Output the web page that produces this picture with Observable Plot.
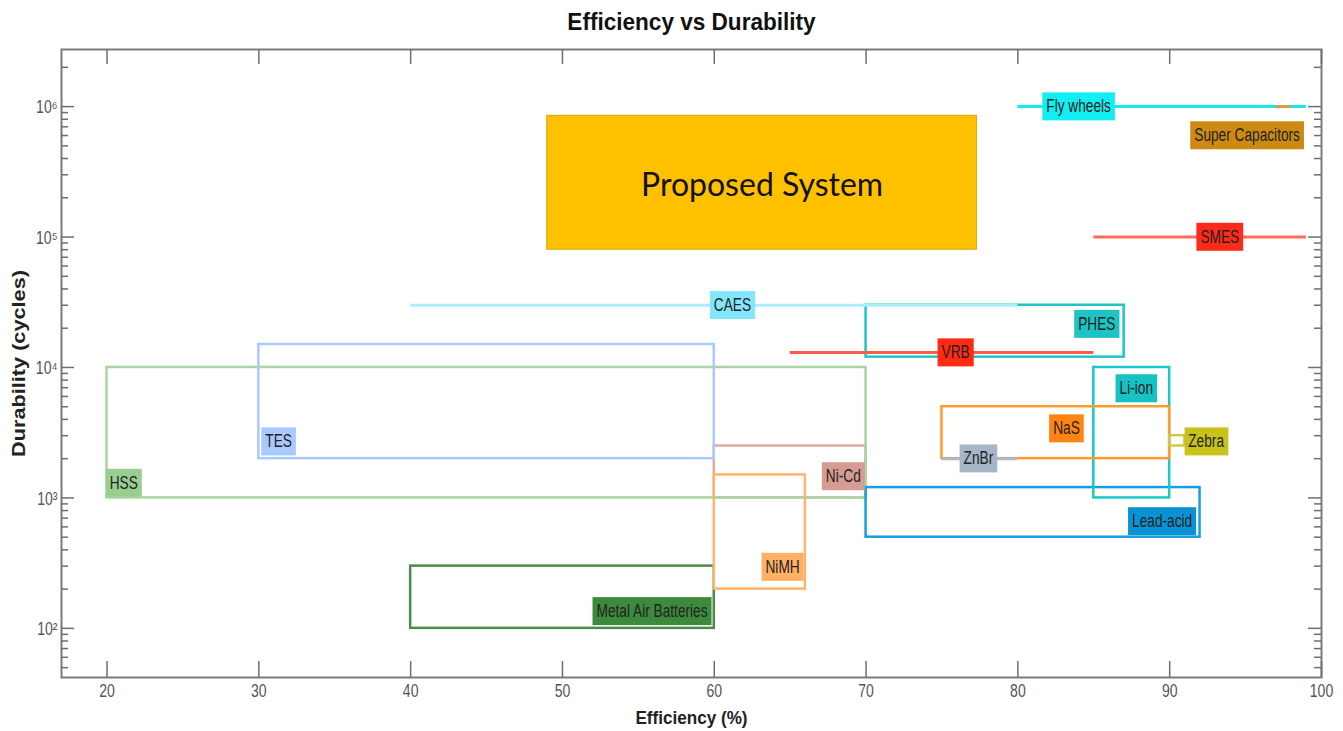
<!DOCTYPE html>
<html>
<head>
<meta charset="utf-8">
<script src="https://cdn.jsdelivr.net/npm/d3@7"></script>
<script src="https://cdn.jsdelivr.net/npm/@observablehq/plot@0.6"></script>
<style>
  html, body { margin: 0; padding: 0; background: #fff; }
</style>
</head>
<body>
<div id="chart"></div>
<script>
// ---------------- data ----------------
const title = "Efficiency vs Durability";
const xLabel = "Efficiency (%)";
const yLabel = "Durability (cycles)";

// technologies drawn as rectangles (efficiency range x cycle range)
const rectTech   = ["Ni-Cd", "HSS", "TES", "Metal Air Batteries", "NiMH", "PHES", "Lead-acid", "Li-ion", "NaS", "Zebra"];
const rectEffMin = [60, 20, 30, 40, 60, 70, 70, 85, 75, 90];
const rectEffMax = [70, 70, 60, 60, 66, 87, 92, 90, 90, 91];
const rectCycMin = [1000, 1000, 2000, 100, 200, 12000, 500, 1000, 2000, 2500];
const rectCycMax = [2500, 10000, 15000, 300, 1500, 30000, 1200, 10000, 5000, 3000];
const rectStroke = ["#e2aaa2", "#a9d6a1", "#a9c9ff", "#4b8b4b", "#ffb46a", "#1cc6c6", "#169fe0", "#19c8c8", "#ff9a2e", "#d2c94a"];

// technologies drawn as single lines (efficiency range at one cycle value)
const lineTech   = ["CAES", "VRB", "ZnBr", "Fly wheels", "Super Capacitors", "SMES"];
const lineEffMin = [40, 65, 75, 80, 97, 85];
const lineEffMax = [80, 85, 80, 99, 98, 99];
const lineCyc    = [30000, 13000, 2000, 1000000, 1000000, 100000];
const lineStroke = ["#aaeeff", "#ff5a4a", "#a9b9c9", "#12eaf2", "#e09a45", "#ff6a5a"];

// labels
const labelText = ["Fly wheels", "Super Capacitors", "SMES", "CAES", "PHES", "VRB", "TES", "HSS", "Ni-Cd", "NiMH", "Metal Air Batteries", "ZnBr", "NaS", "Zebra", "Li-ion", "Lead-acid"];
const labelEff  = [84.0, 95.1, 93.3, 61.2, 85.2, 75.9, 31.3, 21.1, 68.5, 64.5, 55.9, 77.4, 83.2, 92.4, 87.8, 89.5];
const labelCyc  = [1000000, 600000, 100000, 30000, 21500, 13000, 2700, 1300, 1460, 295, 135, 2000, 3400, 2700, 6900, 660];
const labelFill = ["#12eef2", "#cc8a12", "#ff2a1a", "#84e6fb", "#1ec3c3", "#ff2a14", "#a9c9ff", "#96cf8e", "#d69b92", "#ffb062", "#3c8a3c", "#a6b6c6", "#ff8410", "#c8c21a", "#16c2c2", "#0a92d4"];

// proposed system
const proposedName = "Proposed System";
const proposedEff = [49, 77.3];
const proposedCyc = [80000, 850000];

// axes
const xTicks = [20, 30, 40, 50, 60, 70, 80, 90, 100];
const yMajor = [100, 1000, 10000, 100000, 1000000];
const xDomain = [17, 100];
const yDomain = [42, 2740000];

// -------------- layout --------------
const W = 1343, H = 731;
const mT = 49, mB = 54, mL = 61, mR = 22;
const plotW = W - mL - mR, plotH = H - mT - mB;

const yMinor = [];
for (let k = 1; k <= 6; k++) for (let m = 2; m <= 9; m++) {
  const v = m * Math.pow(10, k);
  if (v >= yDomain[0] && v <= yDomain[1]) yMinor.push(v);
}
const sup = {"2": "²", "3": "³", "4": "⁴", "5": "⁵", "6": "⁶"};
const fmtY = d => "10" + sup[String(Math.round(Math.log10(d)))];

const rects = rectTech.map((t, i) => ({t, e1: rectEffMin[i], e2: rectEffMax[i], c1: rectCycMin[i], c2: rectCycMax[i], s: rectStroke[i]}));
const lines = lineTech.map((t, i) => ({t, e1: lineEffMin[i], e2: lineEffMax[i], c: lineCyc[i], s: lineStroke[i]}));
const labels = labelText.map((t, i) => ({t, e: labelEff[i], c: labelCyc[i], f: labelFill[i]}));
const proposed = [{t: proposedName, e1: proposedEff[0], e2: proposedEff[1], c1: proposedCyc[0], c2: proposedCyc[1]}];

const sans = "'Liberation Sans', Arial, Helvetica, sans-serif";

const plot = Plot.plot({
  width: W, height: H,
  marginTop: mT, marginBottom: mB, marginLeft: mL, marginRight: mR,
  style: {background: "#fff", fontFamily: sans, fontSize: "14px", overflow: "visible"},
  x: {domain: xDomain, axis: null},
  y: {type: "log", domain: yDomain, axis: null},
  color: {type: "identity"},
  marks: [
    // rectangles
    Plot.rect(rects, {x1: "e1", x2: "e2", y1: "c1", y2: "c2", fill: "none", stroke: d => d.s, strokeWidth: 2.5}),
    // lines
    Plot.ruleY(lines, {y: "c", x1: "e1", x2: "e2", stroke: d => d.s, strokeWidth: 3}),
    // proposed system
    Plot.rect(proposed, {x1: "e1", x2: "e2", y1: "c1", y2: "c2", fill: "#ffc000", stroke: "#d9a300", strokeWidth: 1}),
    Plot.text(proposed, {x: d => (d.e1 + d.e2) / 2, y: d => Math.sqrt(d.c1 * d.c2), text: "t",
      fontFamily: "Lato, 'Open Sans', sans-serif", fontSize: 32, fill: "#111", dy: 3}),
    // tech labels (boxes added afterwards)
    Plot.text(labels, {x: "e", y: "c", text: "t", fontFamily: sans, fontSize: 18, fill: "#222"}),
    // frame
    Plot.frame({stroke: "#7a7a7a", strokeWidth: 2}),
    // ticks: bottom / top
    Plot.tickX(xTicks, {x: d => d, insetTop: plotH - 16, stroke: "#6e6e6e", strokeWidth: 1.5}),
    Plot.tickX(xTicks, {x: d => d, insetBottom: plotH - 15, stroke: "#6e6e6e", strokeWidth: 1.5}),
    // ticks: left / right
    Plot.tickY(yMajor, {y: d => d, insetRight: plotW - 13, stroke: "#6e6e6e", strokeWidth: 1.5}),
    Plot.tickY(yMinor, {y: d => d, insetRight: plotW - 7, stroke: "#6e6e6e", strokeWidth: 1.5}),
    Plot.tickY(yMajor, {y: d => d, insetLeft: plotW - 13, stroke: "#6e6e6e", strokeWidth: 1.5}),
    Plot.tickY(yMinor, {y: d => d, insetLeft: plotW - 7, stroke: "#6e6e6e", strokeWidth: 1.5}),
    // tick labels
    Plot.text(xTicks, {x: d => d, text: d => String(d), frameAnchor: "bottom", lineAnchor: "top", dy: 7,
      fontSize: 18, fill: "#555"}),
    Plot.text(yMajor, {y: d => d, text: fmtY, frameAnchor: "left", textAnchor: "end", dx: -4, dy: 1,
      fontSize: 18, fill: "#555"}),
    // titles
    Plot.text([title], {text: d => d, frameAnchor: "top", lineAnchor: "middle", textAnchor: "middle", dy: -27,
      fontSize: 24, fontWeight: "bold", fill: "#111"}),
    Plot.text([xLabel], {text: d => d, frameAnchor: "bottom", lineAnchor: "middle", textAnchor: "middle", dy: 41,
      fontSize: 18, fontWeight: "bold", fill: "#222"}),
    Plot.text([yLabel], {text: d => d, frameAnchor: "left", lineAnchor: "middle", textAnchor: "middle", dx: -43, rotate: -90,
      fontSize: 19, fontWeight: "bold", fill: "#222"})
  ]
});

document.getElementById("chart").append(plot);

// condense text horizontally (the reference uses a narrow face)
const condense = (el, ratio) => {
  const len = el.getComputedTextLength();
  el.setAttribute("textLength", (len * ratio).toFixed(2));
  el.setAttribute("lengthAdjust", "spacingAndGlyphs");
  return len * ratio;
};
const fillByText = new Map(labels.map(d => [d.t, d.f]));
const tickStrings = new Set([...xTicks.map(String), ...yMajor.map(fmtY)]);
const boxH = 28, padX = 4;
plot.querySelectorAll("text").forEach(el => {
  const t = el.textContent;
  if (t === title) condense(el, 0.94);
  else if (t === xLabel) condense(el, 0.95);
  else if (t === yLabel) el.setAttribute("textLength", 187), el.setAttribute("lengthAdjust", "spacingAndGlyphs");
  else if (tickStrings.has(t)) condense(el, 0.78);
  else if (fillByText.has(t)) {
    const w = condense(el, 0.76);
    const bb = el.getBBox();
    const cx = bb.x + bb.width / 2;
    const r = document.createElementNS("http://www.w3.org/2000/svg", "rect");
    r.setAttribute("x", cx - w / 2 - padX);
    r.setAttribute("y", bb.y + bb.height / 2 - boxH / 2);
    r.setAttribute("width", w + 2 * padX);
    r.setAttribute("height", boxH);
    r.setAttribute("fill", fillByText.get(t));
    const tr = el.getAttribute("transform");
    if (tr) r.setAttribute("transform", tr);
    el.parentNode.insertBefore(r, el);
  }
});
</script>
</body>
</html>
